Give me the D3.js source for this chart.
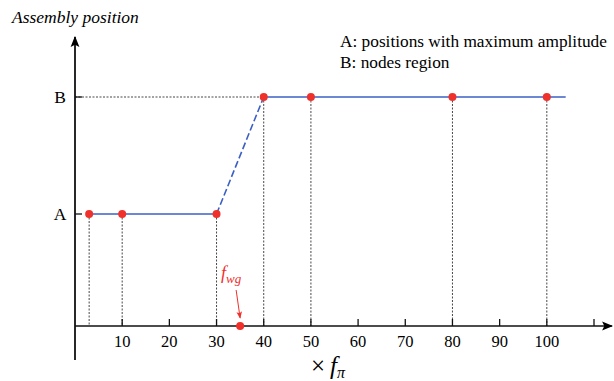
<!DOCTYPE html>
<html>
<head>
<meta charset="utf-8">
<script src="https://cdn.jsdelivr.net/npm/d3@7"></script>
<style>
  body { margin: 0; background: #fff; }
  svg text { font-family: "Liberation Serif", "DejaVu Serif", serif; }
</style>
</head>
<body>
<div id="chart"></div>
<script>
// data
var xTicks = [10, 20, 30, 40, 50, 60, 70, 80, 90, 100, 110];
var xLabels = ["10", "20", "30", "40", "50", "60", "70", "80", "90", "100", ""];
var levels = ["A", "B"];
var pointX = [3, 10, 30, 40, 50, 80, 100];
var pointLevel = ["A", "A", "A", "B", "B", "B", "B"];
var lineEndX = 104;
var fwgX = 35;

var width = 614, height = 381;

var svg = d3.select("#chart").append("svg")
    .attr("width", width)
    .attr("height", height);

var xscale = d3.scaleLinear().domain([0, 110]).range([75, 594]);
var yscale = d3.scaleLinear().domain([0, 1, 2]).range([326, 214, 97]);
var lev = function(l) { return levels.indexOf(l) + 1; };

var blue = "#3b5fc4", red = "#f0302b";

var defs = svg.append("defs");
defs.append("marker")
    .attr("id", "arrowBlack")
    .attr("viewBox", "0 0 10 10")
    .attr("refX", 9).attr("refY", 5)
    .attr("markerWidth", 11).attr("markerHeight", 11)
    .attr("markerUnits", "userSpaceOnUse")
    .attr("orient", "auto")
  .append("path")
    .attr("d", "M0,1 L10,5 L0,9 L2,5 Z")
    .attr("fill", "#000");
defs.append("marker")
    .attr("id", "arrowRed")
    .attr("viewBox", "0 0 10 10")
    .attr("refX", 9).attr("refY", 5)
    .attr("markerWidth", 7).attr("markerHeight", 7)
    .attr("markerUnits", "userSpaceOnUse")
    .attr("orient", "auto")
  .append("path")
    .attr("d", "M0,1 L10,5 L0,9 L2,5 Z")
    .attr("fill", red);

// dashed guide lines
var pts = pointX.map(function(x, i) { return {x: x, l: lev(pointLevel[i])}; });

svg.selectAll(".vguide")
  .data(pts)
  .join("line")
    .attr("x1", function(d) { return xscale(d.x); })
    .attr("x2", function(d) { return xscale(d.x); })
    .attr("y1", function(d) { return yscale(d.l); })
    .attr("y2", yscale(0))
    .attr("stroke", "#333")
    .attr("stroke-width", 0.9)
    .attr("stroke-dasharray", "2,1.5");

svg.append("line")
    .attr("x1", xscale(0)).attr("x2", xscale(40))
    .attr("y1", yscale(2)).attr("y2", yscale(2))
    .attr("stroke", "#333")
    .attr("stroke-width", 0.9)
    .attr("stroke-dasharray", "2,1.5");

// axes
svg.append("line")
    .attr("x1", xscale(0)).attr("x2", 612)
    .attr("y1", yscale(0)).attr("y2", yscale(0))
    .attr("stroke", "#111").attr("stroke-width", 1.6)
    .attr("marker-end", "url(#arrowBlack)");

svg.append("line")
    .attr("x1", xscale(0)).attr("x2", xscale(0))
    .attr("y1", 360).attr("y2", 37)
    .attr("stroke", "#111").attr("stroke-width", 1.8)
    .attr("marker-end", "url(#arrowBlack)");

svg.selectAll(".xtick")
  .data(xTicks)
  .join("line")
    .attr("x1", function(d) { return xscale(d); })
    .attr("x2", function(d) { return xscale(d); })
    .attr("y1", yscale(0))
    .attr("y2", yscale(0) - 7)
    .attr("stroke", "#111").attr("stroke-width", 1.3);

svg.selectAll(".xlabel")
  .data(xTicks)
  .join("text")
    .attr("x", function(d) { return xscale(d); })
    .attr("y", yscale(0) + 21)
    .attr("text-anchor", "middle")
    .attr("font-size", "16.5px")
    .text(function(d, i) { return xLabels[i]; });

svg.selectAll(".ytick")
  .data(levels)
  .join("line")
    .attr("x1", xscale(0))
    .attr("x2", xscale(0) + 7)
    .attr("y1", function(d) { return yscale(lev(d)); })
    .attr("y2", function(d) { return yscale(lev(d)); })
    .attr("stroke", "#111").attr("stroke-width", 1.3);

svg.selectAll(".ylabel")
  .data(levels)
  .join("text")
    .attr("x", 60)
    .attr("y", function(d) { return yscale(lev(d)) + 6; })
    .attr("text-anchor", "middle")
    .attr("font-size", "17.5px")
    .text(function(d) { return d; });

// lines
var line = d3.line()
    .x(function(d) { return xscale(d.x); })
    .y(function(d) { return yscale(d.l); });

svg.append("path")
    .attr("d", line(pts.slice(0, 3)))
    .attr("fill", "none").attr("stroke", blue).attr("stroke-width", 1.6);

svg.append("path")
    .attr("d", line(pts.slice(2, 4)))
    .attr("fill", "none").attr("stroke", blue).attr("stroke-width", 1.6)
    .attr("stroke-dasharray", "7,3");

svg.append("path")
    .attr("d", line(pts.slice(3).concat([{x: lineEndX, l: 2}])))
    .attr("fill", "none").attr("stroke", blue).attr("stroke-width", 1.6);

svg.selectAll(".pt")
  .data(pts)
  .join("circle")
    .attr("cx", function(d) { return xscale(d.x); })
    .attr("cy", function(d) { return yscale(d.l); })
    .attr("r", 4)
    .attr("fill", red);

// f_wg
svg.append("circle")
    .attr("cx", xscale(fwgX)).attr("cy", yscale(0))
    .attr("r", 4).attr("fill", red);

svg.append("line")
    .attr("x1", xscale(fwgX) - 4).attr("y1", 290)
    .attr("x2", xscale(fwgX)).attr("y2", 318)
    .attr("stroke", red).attr("stroke-width", 1)
    .attr("marker-end", "url(#arrowRed)");

var fwg = svg.append("text")
    .attr("x", 221).attr("y", 279)
    .attr("fill", red)
    .attr("font-style", "italic")
    .attr("font-size", "18px");
fwg.append("tspan").text("f");
fwg.append("tspan").attr("font-size", "13px").attr("dy", 4).text("wg");

// titles
svg.append("text")
    .attr("x", 12).attr("y", 23)
    .attr("font-style", "italic")
    .attr("font-size", "17.5px")
    .text("Assembly position");

svg.append("text")
    .attr("x", 340).attr("y", 47)
    .attr("font-size", "17.3px")
    .text("A: positions with maximum amplitude");

svg.append("text")
    .attr("x", 340).attr("y", 68)
    .attr("font-size", "17.3px")
    .text("B: nodes region");

var xl = svg.append("text")
    .attr("x", 311).attr("y", 374)
    .attr("font-size", "25px");
xl.append("tspan").text("\u00d7");
xl.append("tspan").attr("font-style", "italic").attr("dx", 5).text("f");
xl.append("tspan").attr("font-style", "italic").attr("font-size", "16px").attr("dy", 4).text("\u03c0");
</script>
</body>
</html>
